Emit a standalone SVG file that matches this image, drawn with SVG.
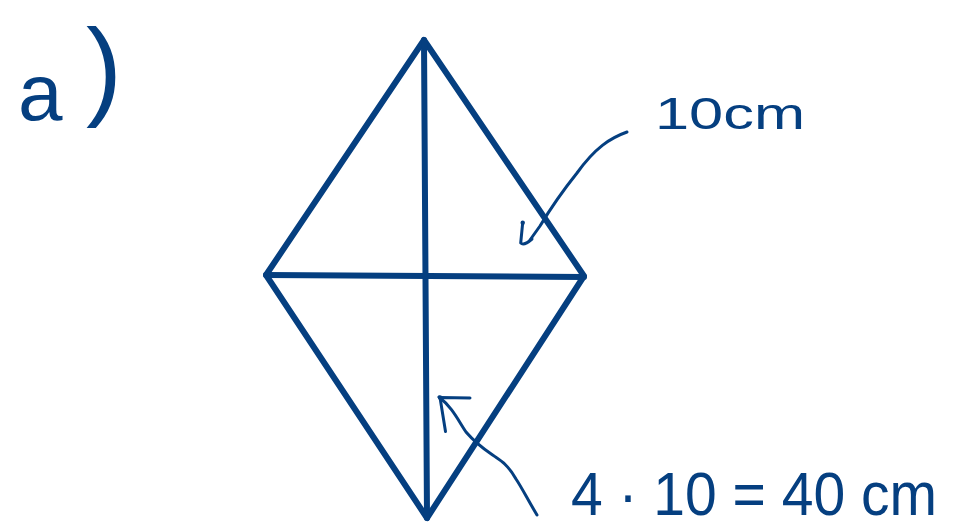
<svg xmlns="http://www.w3.org/2000/svg" width="975" height="531" viewBox="0 0 975 531">
<style>
.k{stroke:#053f80;stroke-width:6;stroke-linecap:round;stroke-linejoin:round;fill:none}
.a{stroke:#053f80;stroke-width:3;stroke-linecap:round;stroke-linejoin:round;fill:none}
.t{fill:#053f80;font-family:"Liberation Sans",Arial,sans-serif}
</style>
<rect width="975" height="531" fill="#ffffff"/>
<g id="label-a">
<text class="t" x="18" y="120" font-size="80">a</text>
<text class="t" x="86" y="105" font-size="110" textLength="36" lengthAdjust="spacingAndGlyphs">)</text>
</g>
<g id="kite">
<polygon class="k" points="424,40 584,276 427,518 266,275"/>
<line class="k" x1="424" y1="40" x2="427" y2="518"/>
<line class="k" x1="266" y1="275" x2="584" y2="277"/>
</g>
<g id="connectors">
<path class="a" d="M627,132 C610,138 595,148 577,173 C565,188 552,206 540,226 L530,240"/>
<path class="a" d="M522.7,222.7 L520.7,243 Q524,246 532,239"/>
<circle cx="522.7" cy="222.7" r="2.2" fill="#053f80"/>
<path class="a" d="M537,515 C528,500 522,488 516,479 C510,468 505,463 497,458 C487,451 478,446 466,432 C458,420 452,407 439,397"/>
<path class="a" d="M470,398 L440,397.5 L445.5,431.5"/>
<circle cx="440" cy="397.5" r="2.2" fill="#053f80"/>
</g>
<g id="label-10cm">
<text class="t" x="655" y="129" font-size="45" textLength="150" lengthAdjust="spacingAndGlyphs">10cm</text>
</g>
<g id="label-perimeter">
<text class="t" x="571" y="515" font-size="62" textLength="366" lengthAdjust="spacingAndGlyphs">4 · 10 = 40 cm</text>
</g>
</svg>
